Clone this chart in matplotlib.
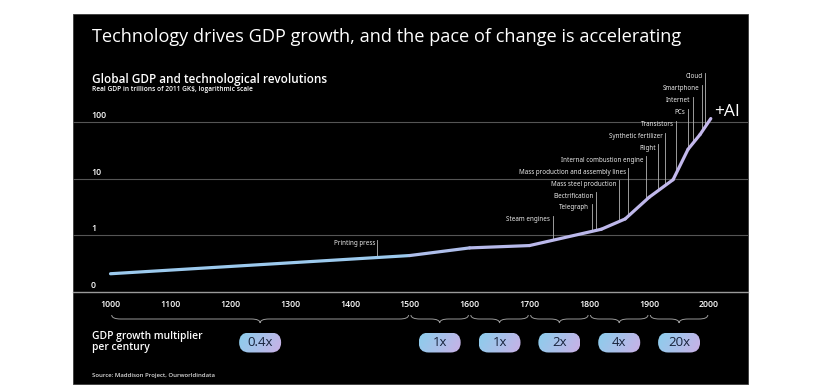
import numpy as np
import matplotlib
matplotlib.use("Agg")
import matplotlib.pyplot as plt
from matplotlib.collections import LineCollection
from matplotlib.colors import LinearSegmentedColormap
from matplotlib.patches import FancyBboxPatch, PathPatch, Rectangle
from matplotlib.path import Path
from matplotlib.transforms import blended_transform_factory

plt.rcParams['font.family'] = ['Open Sans', 'DejaVu Sans']

# --- data ---
years = [1000, 1500, 1600, 1700, 1820, 1860, 1900, 1940, 1965, 1985, 2003]
gdp = [0.21, 0.44, 0.60, 0.66, 1.28, 1.95, 4.7, 9.6, 33, 60, 115]  # trillions 2011 GK$

events = ['Cloud', 'Smartphone', 'Internet', 'PCs', 'Transistors', 'Synthetic fertilizer',
          'Flight', 'Internal combustion engine', 'Mass production and assembly lines',
          'Mass steel production', 'Electrification', 'Telegraph', 'Steam engines',
          'Printing press']
event_years = [1994, 1988, 1973, 1965, 1945, 1927, 1915, 1895, 1865, 1850, 1812, 1804, 1739, 1446]

period_bounds = [1000, 1500, 1600, 1700, 1800, 1900, 2000]
multipliers = ['0.4x', '1x', '1x', '2x', '4x', '20x']

ytick_vals = [0.1, 1, 10, 100]
ytick_labels = ['0', '1', '10', '100']
xtick_vals = list(range(1000, 2001, 100))

# --- layout (pixels of an 820x390 canvas) ---
W, H = 820, 390
fig = plt.figure(figsize=(W / 100, H / 100), dpi=100)
fig.patch.set_facecolor('white')
fig.patches.append(Rectangle((73 / W, 1 - 384 / H), 675 / W, 370 / H, transform=fig.transFigure,
                             facecolor='black', edgecolor='#3a3a3a', lw=0.6, zorder=-10))

ax_top_px, ax_bot_px = 60, 292
ax = fig.add_axes([73 / W, 1 - ax_bot_px / H, 675 / W, (ax_bot_px - ax_top_px) / H])
ax.set_facecolor('none')
ax.set_yscale('log')
px_per_year = 0.5985
x0 = 1000 - (110.5 - 73) / px_per_year
x1 = x0 + 675 / px_per_year
ax.set_xlim(x0, x1)
px_per_dec = 170 / 3
ymin = 0.1
ymax = 10 ** (-1 + (ax_bot_px - ax_top_px) / px_per_dec)
ax.set_ylim(ymin, ymax)
for s in ax.spines.values():
    s.set_visible(False)
ax.set_yticks([])
ax.minorticks_off()
ax.set_xticks(xtick_vals)
ax.set_xticklabels([str(v) for v in xtick_vals], color='white', fontsize=6.3, fontweight='semibold')
ax.tick_params(axis='x', length=0, pad=6)

# gridlines + baseline
for v in ytick_vals[1:]:
    ax.axhline(v, color='#555555', lw=0.8, zorder=1)
ax.axhline(ytick_vals[0], color='#9a9a9a', lw=1.0, zorder=1, clip_on=False)
for v, lab in zip(ytick_vals, ytick_labels):
    ax.annotate(lab, xy=(0, v), xycoords=('axes fraction', 'data'), xytext=(18, 4),
                textcoords='offset pixels', ha='left', va='baseline', color='white',
                fontsize=6.3, fontweight='semibold')

# GDP line with a blue -> lavender gradient
lx = np.array(years, float)
ly = np.array(gdp, float)
pts = np.column_stack([lx, ly]).reshape(-1, 1, 2)
segs = np.concatenate([pts[:-1], pts[1:]], axis=1)
line_cmap = LinearSegmentedColormap.from_list('gl', ['#94cff0', '#9ec9ee', '#b7b8ea', '#c4b8ec'])
mid = (lx[:-1] + lx[1:]) / 2
lc = LineCollection(segs, colors=line_cmap((mid - 1000) / 1000), linewidths=2.3,
                    capstyle='round', joinstyle='round', zorder=4)
ax.add_collection(lc)

ax.annotate('+AI', xy=(lx[-1], ly[-1]), xytext=(3, 7), textcoords='offset pixels',
            ha='left', va='center', color='white', fontsize=12.5)

# technology labels with leader lines
def frac_to_val(f):
    return 10 ** (np.log10(ymin) + f * (np.log10(ymax) - np.log10(ymin)))

ax_h = ax_bot_px - ax_top_px
for i, (name, yr) in enumerate(zip(events, event_years)):
    level = i if yr >= 1500 else i + 1
    ypx = 77 + level * 11.9
    f = (ax_bot_px - ypx) / ax_h
    ax.annotate(name, xy=(yr, f), xycoords=('data', 'axes fraction'), xytext=(-2.5, 0),
                textcoords='offset pixels', ha='right', va='center', color='#ececec',
                fontsize=4.5, family=['Noto Sans', 'DejaVu Sans'])
    f_top = (ax_bot_px - (ypx - 4)) / ax_h
    y_curve = 10 ** np.interp(yr, lx, np.log10(ly))
    ax.plot([yr, yr], [frac_to_val(f_top), y_curve], color='#b5b5b5', lw=0.6, zorder=3)

# --- bottom band: braces, multiplier pills, source ---
ax2 = fig.add_axes([73 / W, 1 - 384 / H, 675 / W, (384 - ax_bot_px) / H])
ax2.set_facecolor('none')
ax2.axis('off')

r = 9 / px_per_year
for a, b in zip(period_bounds[:-1], period_bounds[1:]):
    a, b = a + 2, b - 2
    m = (a + b) / 2
    verts = [(a, 23), (a, 27), (a + r, 27), (m - r, 27), (m, 27), (m, 31),
             (m, 27), (m + r, 27), (b - r, 27), (b, 27), (b, 23)]
    codes = [Path.MOVETO, Path.CURVE3, Path.CURVE3, Path.LINETO, Path.CURVE3, Path.CURVE3,
             Path.CURVE3, Path.CURVE3, Path.LINETO, Path.CURVE3, Path.CURVE3]
    ax2.add_patch(PathPatch(Path(verts, codes), fc='none', ec='#9a9a9a', lw=0.7))

pill_cmap = LinearSegmentedColormap.from_list('pill', ['#8ccdec', '#a9c0ea', '#cbb0e6'])
pill_w = 42 / px_per_year
pill_h = 20
gx, gy = np.meshgrid(np.linspace(0, 1, 64), np.linspace(0, 1, 16))
grad = 0.8 * gx + 0.2 * gy
for a, b, lab in zip(period_bounds[:-1], period_bounds[1:], multipliers):
    cx, cy = (a + b) / 2, 50.5
    patch = FancyBboxPatch((cx - pill_w / 2, cy - pill_h / 2), pill_w, pill_h,
                           boxstyle='round,pad=0,rounding_size=%f' % (10 / px_per_year),
                           mutation_aspect=px_per_year, fc='none', ec='none')
    ax2.add_patch(patch)
    im = ax2.imshow(grad, cmap=pill_cmap, extent=[cx - pill_w / 2, cx + pill_w / 2,
                                                 cy + pill_h / 2, cy - pill_h / 2],
                    aspect='auto', interpolation='bilinear', zorder=2)
    im.set_clip_path(patch)
    ax2.text(cx, cy, lab, ha='center', va='center', color='#17223b', fontsize=9.5, zorder=3)
ax2.set_xlim(x0, x1)
ax2.set_ylim(384 - ax_bot_px, 0)

tr = blended_transform_factory(ax2.transAxes, ax2.transData)
ax2.text(19 / 675, 50, 'GDP growth multiplier\nper century', transform=tr,
         ha='left', va='center', color='white', fontsize=7.4, fontweight='semibold',
         linespacing=1.1)
ax2.text(19 / 675, 83, 'Source: Maddison Project, Ourworldindata', transform=tr,
         ha='left', va='center', color='#dddddd', fontsize=4.3, fontweight='semibold')

# --- titles ---
fig.text(92 / W, 1 - 42 / H, 'Technology drives GDP growth, and the pace of change is accelerating',
         ha='left', va='baseline', color='white', fontsize=13.1)
fig.text(92 / W, 1 - 83 / H, 'Global GDP and technological revolutions',
         ha='left', va='baseline', color='white', fontsize=8.5, fontweight='semibold')
fig.text(92 / W, 1 - 91 / H, 'Real GDP in trillions of 2011 GK$, logarithmic scale',
         ha='left', va='baseline', color='white', fontsize=4.8, fontweight='semibold')

fig.savefig('out.png', dpi=100, facecolor='white')
